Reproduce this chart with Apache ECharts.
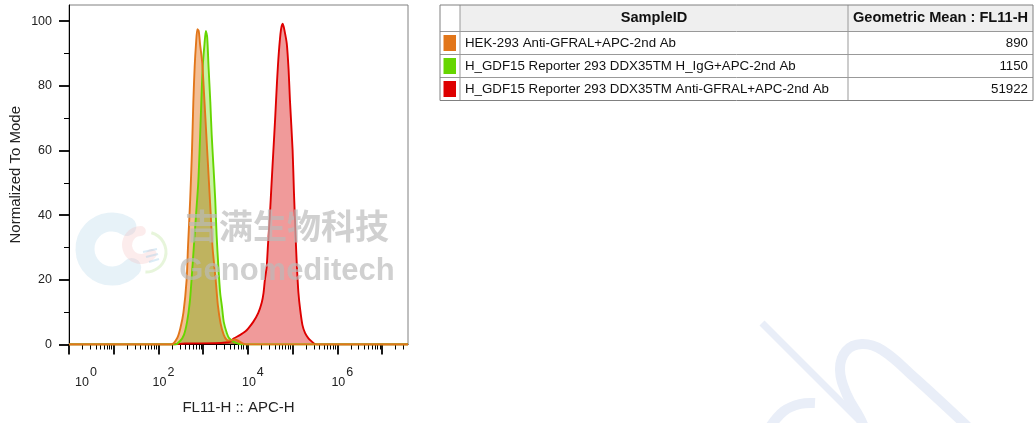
<!DOCTYPE html>
<html>
<head>
<meta charset="utf-8">
<script src="https://cdn.jsdelivr.net/npm/echarts@6/dist/echarts.min.js"></script>
<style>
html,body{margin:0;padding:0;background:#fff;}
#chart{width:1035px;height:423px;}
</style>
</head>
<body>
<div id="chart"></div>
<script>
// ---------- data (x values are log10 of FL11-H intensity) ----------
const sampleIds = [
  'HEK-293 Anti-GFRAL+APC-2nd Ab',
  'H_GDF15 Reporter 293 DDX35TM H_IgG+APC-2nd Ab',
  'H_GDF15 Reporter 293 DDX35TM Anti-GFRAL+APC-2nd Ab'
];
const geoMeans = [890, 1150, 51922];
const lineColors = ['#e2761a', '#66d600', '#de0000'];
const fillColors = ['#f3be94', '#c9f1a3', '#f09a9a'];

const hekLogX = [0, 2.29, 2.42, 2.49, 2.56, 2.63, 2.66, 2.71, 2.75, 2.78, 2.81, 2.84, 2.87, 2.90, 2.93, 2.98, 3.01, 3.05, 3.09, 3.13, 3.17, 3.21, 3.28, 3.33, 3.39, 3.46, 3.53, 3.62, 3.70, 3.78, 3.87, 3.96, 7.58];
const hekMode = [0, 0, 2, 5, 10, 20, 30, 45, 60, 75, 86, 93, 97.5, 97, 93, 87, 80, 70, 60, 50, 40, 30, 20, 12, 6.5, 3, 1.4, 1.2, 1.6, 1.2, 0.4, 0, 0];

const igLogX = [0, 2.37, 2.48, 2.57, 2.64, 2.70, 2.74, 2.79, 2.84, 2.89, 2.92, 2.96, 2.99, 3.03, 3.06, 3.09, 3.12, 3.16, 3.19, 3.23, 3.27, 3.30, 3.34, 3.38, 3.42, 3.46, 3.53, 3.58, 3.68, 3.78, 3.87, 7.58];
const igMode = [0, 0, 1, 3, 7, 13, 20, 30, 40, 50, 60, 75.7, 86, 93, 97, 95, 86, 75, 65, 55, 44.7, 34, 24, 16, 11.7, 7, 3.5, 2, 0.9, 0.3, 0, 0];

const antiLogX = [0, 2.26, 2.59, 3.27, 3.51, 3.60, 3.69, 3.82, 3.94, 4.01, 4.12, 4.23, 4.31, 4.35, 4.38, 4.42, 4.45, 4.49, 4.53, 4.57, 4.61, 4.65, 4.69, 4.74, 4.78, 4.82, 4.87, 4.91, 4.94, 5.00, 5.03, 5.06, 5.08, 5.10, 5.13, 5.17, 5.22, 5.28, 5.35, 5.43, 5.48, 5.55, 7.58];
const antiMode = [0, 0, 0.3, 0.4, 0.6, 0.9, 1.9, 2.9, 4, 5, 7, 9.7, 13, 16, 20, 24, 31, 39.6, 50, 60, 70, 81, 90, 97.4, 99.2, 97, 93, 85, 75.7, 60, 47, 36, 29, 23, 16, 10.7, 6, 3.5, 2, 0.9, 0.3, 0, 0];

const xDecadeTicks = [0, 1, 2, 3, 4, 5, 6, 7];
const xLabelExponents = [0, 2, 4, 6];
const yMajorTicks = [0, 20, 40, 60, 80, 100];
const yMinorTicks = [10, 30, 50, 70, 90];

const X_MAX = 7.58, Y_MAX = 105;
const xMinorTicks = [];
for (let n = 0; n < 8; n++) for (let k = 2; k <= 9; k++) {
  const v = n + Math.log10(k);
  if (v < X_MAX) xMinorTicks.push(v);
}

const histX = [hekLogX, igLogX, antiLogX];
const histY = [hekMode, igMode, antiMode];
const pairs = (xs, ys) => xs.map((x, i) => [x, ys[i]]);

const FONT = 'Liberation Sans, Arial, sans-serif';
const chart = echarts.init(document.getElementById('chart'), null, {renderer: 'canvas'});

// draw order: red, green, orange (orange on top)
const order = [2, 1, 0];
const series = [];
order.forEach(i => {
  series.push({
    name: sampleIds[i] + ' fill', type: 'line', data: pairs(histX[i], histY[i]),
    showSymbol: false, smooth: 0.25, silent: true, blendMode: 'multiply',
    lineStyle: {width: 0, opacity: 0},
    areaStyle: {color: fillColors[i], opacity: 1}, z: 2
  });
});
order.forEach(i => {
  series.push({
    name: sampleIds[i], type: 'line', data: pairs(histX[i], histY[i]),
    showSymbol: false, smooth: 0.25, silent: true,
    lineStyle: {width: 1.9, color: lineColors[i]}, z: 3
  });
});

// ---------- table built from the arrays ----------
const T = {x: 440, top: 5, colW: [20, 388, 185], headH: 26.5, rowH: 23};
const tx = [T.x, T.x + T.colW[0], T.x + T.colW[0] + T.colW[1], T.x + T.colW[0] + T.colW[1] + T.colW[2]];
const tableH = T.headH + T.rowH * sampleIds.length;
const g = [];
g.push({type: 'rect', shape: {x: tx[1], y: T.top, width: tx[3] - tx[1], height: T.headH}, style: {fill: '#efefef'}, z: 1});
g.push({type: 'text', x: (tx[1] + tx[2]) / 2, y: T.top + T.headH / 2, style: {text: 'SampleID', font: 'bold 14.6px ' + FONT, fill: '#111', align: 'center', verticalAlign: 'middle'}, z: 3});
g.push({type: 'text', x: (tx[2] + tx[3]) / 2, y: T.top + T.headH / 2, style: {text: 'Geometric Mean : FL11-H', font: 'bold 14.6px ' + FONT, fill: '#111', align: 'center', verticalAlign: 'middle'}, z: 3});
sampleIds.forEach((s, i) => {
  const y0 = T.top + T.headH + i * T.rowH;
  g.push({type: 'rect', shape: {x: tx[0] + 3.5, y: y0 + 3.5, width: 12.5, height: 16}, style: {fill: lineColors[i]}, z: 3});
  g.push({type: 'text', x: tx[1] + 5, y: y0 + T.rowH / 2, style: {text: s, font: '13.3px ' + FONT, fill: '#111', align: 'left', verticalAlign: 'middle'}, z: 3});
  g.push({type: 'text', x: tx[3] - 5, y: y0 + T.rowH / 2, style: {text: String(geoMeans[i]), font: '13.3px ' + FONT, fill: '#111', align: 'right', verticalAlign: 'middle'}, z: 3});
  g.push({type: 'line', shape: {x1: tx[0], y1: y0, x2: tx[3], y2: y0}, style: {stroke: '#999', lineWidth: 1}, z: 2});
});
[tx[1], tx[2]].forEach(x => g.push({type: 'line', shape: {x1: x, y1: T.top, x2: x, y2: T.top + tableH}, style: {stroke: '#999', lineWidth: 1}, z: 2}));
g.push({type: 'rect', shape: {x: tx[0], y: T.top, width: tx[3] - tx[0], height: tableH}, style: {fill: 'none', stroke: '#808080', lineWidth: 1}, z: 4});

// ---------- watermarks ----------
const wm = 'rgba(185,185,185,0.68)';
g.push({type: 'arc', shape: {cx: 112, cy: 249, r: 27, startAngle: 0.75, endAngle: 5.3, clockwise: true}, style: {stroke: 'rgba(180,216,234,0.32)', lineWidth: 19, fill: 'none', lineCap: 'round'}, z: 20});
g.push({type: 'arc', shape: {cx: 141, cy: 245, r: 14, startAngle: 0.7, endAngle: 4.7, clockwise: true}, style: {stroke: 'rgba(242,180,180,0.26)', lineWidth: 10, fill: 'none', lineCap: 'round'}, z: 20});
g.push({type: 'arc', shape: {cx: 146, cy: 252, r: 20, startAngle: -1.3, endAngle: 1.6, clockwise: true}, style: {stroke: 'rgba(195,230,165,0.4)', lineWidth: 3, fill: 'none'}, z: 20});
[0, 1, 2].forEach(k => g.push({type: 'line', shape: {x1: 143 + k * 3, y1: 252 + k * 5, x2: 157 + k * 1, y2: 249 + k * 5}, style: {stroke: 'rgba(165,208,232,0.4)', lineWidth: 2}, z: 20}));
g.push({type: 'text', x: 287, y: 226, style: {text: '吉满生物科技', font: 'bold 34px "Noto Sans CJK SC", sans-serif', fill: wm, align: 'center', verticalAlign: 'middle'}, z: 21});
g.push({type: 'text', x: 287, y: 271, style: {text: 'Genomeditech', font: 'bold 31px ' + FONT, fill: wm, align: 'center', verticalAlign: 'middle'}, z: 21});
const bl = '#e9eef8';
g.push({type: 'line', shape: {x1: 762, y1: 323, x2: 866, y2: 427}, style: {stroke: bl, lineWidth: 7}, z: 0});
g.push({type: 'polyline', shape: {points: [[968, 427], [915, 378], [882, 350], [862, 344], [846, 351], [840, 370], [847, 395], [860, 418], [864, 427]], smooth: 0.4}, style: {stroke: bl, lineWidth: 10, fill: 'none'}, z: 0});
g.push({type: 'polyline', shape: {points: [[770, 427], [784, 411], [800, 404], [815, 403]], smooth: 0.4}, style: {stroke: bl, lineWidth: 10, fill: 'none'}, z: 0});

const supFmt = v => {
  const n = Math.round(v);
  return (n === 0 ? '{b0|10}' : '{b|10}') + '{s|' + n + '}';
};

chart.setOption({
  animation: false,
  backgroundColor: '#fff',
  grid: {left: 69, right: 627, top: 5, bottom: 78.5, show: true, borderColor: '#808080', borderWidth: 1, containLabel: false},
  xAxis: [{
    type: 'value', min: 0, max: X_MAX, position: 'bottom',
    axisLine: {show: true, lineStyle: {color: '#000', width: 1}},
    axisTick: {show: true, length: 10, customValues: xDecadeTicks, lineStyle: {color: '#000', width: 1.8}},
    axisLabel: {
      customValues: xLabelExponents, margin: 22, formatter: supFmt, color: '#222', fontFamily: FONT,
      rich: {
        b: {fontSize: 12.5, fontFamily: FONT, color: '#222', padding: [0, 0, 0, 10]},
        b0: {fontSize: 12.5, fontFamily: FONT, color: '#222', padding: [0, 0, 0, 34]},
        s: {fontSize: 12.5, fontFamily: FONT, color: '#222', padding: [0, 0, 20, 1]}
      }
    },
    splitLine: {show: false},
    name: 'FL11-H :: APC-H', nameLocation: 'middle', nameGap: 56,
    nameTextStyle: {fontSize: 15, color: '#222', fontFamily: FONT}
  }, {
    type: 'value', min: 0, max: X_MAX, position: 'bottom', gridIndex: 0,
    axisLine: {show: false},
    axisTick: {show: true, length: 5, customValues: xMinorTicks, lineStyle: {color: '#000', width: 1}},
    axisLabel: {show: false}, splitLine: {show: false}
  }],
  yAxis: [{
    type: 'value', min: 0, max: Y_MAX, position: 'left',
    axisLine: {show: true, lineStyle: {color: '#000', width: 1}},
    axisTick: {show: true, length: 10, customValues: yMajorTicks, lineStyle: {color: '#000', width: 1.8}},
    axisLabel: {customValues: yMajorTicks, margin: 17, fontSize: 12.5, color: '#222', fontFamily: FONT},
    splitLine: {show: false},
    name: 'Normalized To Mode', nameLocation: 'middle', nameGap: 46,
    nameTextStyle: {fontSize: 15, color: '#222', fontFamily: FONT}
  }, {
    type: 'value', min: 0, max: Y_MAX, position: 'left', gridIndex: 0,
    axisLine: {show: false},
    axisTick: {show: true, length: 5, customValues: yMinorTicks, lineStyle: {color: '#000', width: 1}},
    axisLabel: {show: false}, splitLine: {show: false}
  }],
  series: series,
  graphic: {elements: g}
});
</script>
</body>
</html>
